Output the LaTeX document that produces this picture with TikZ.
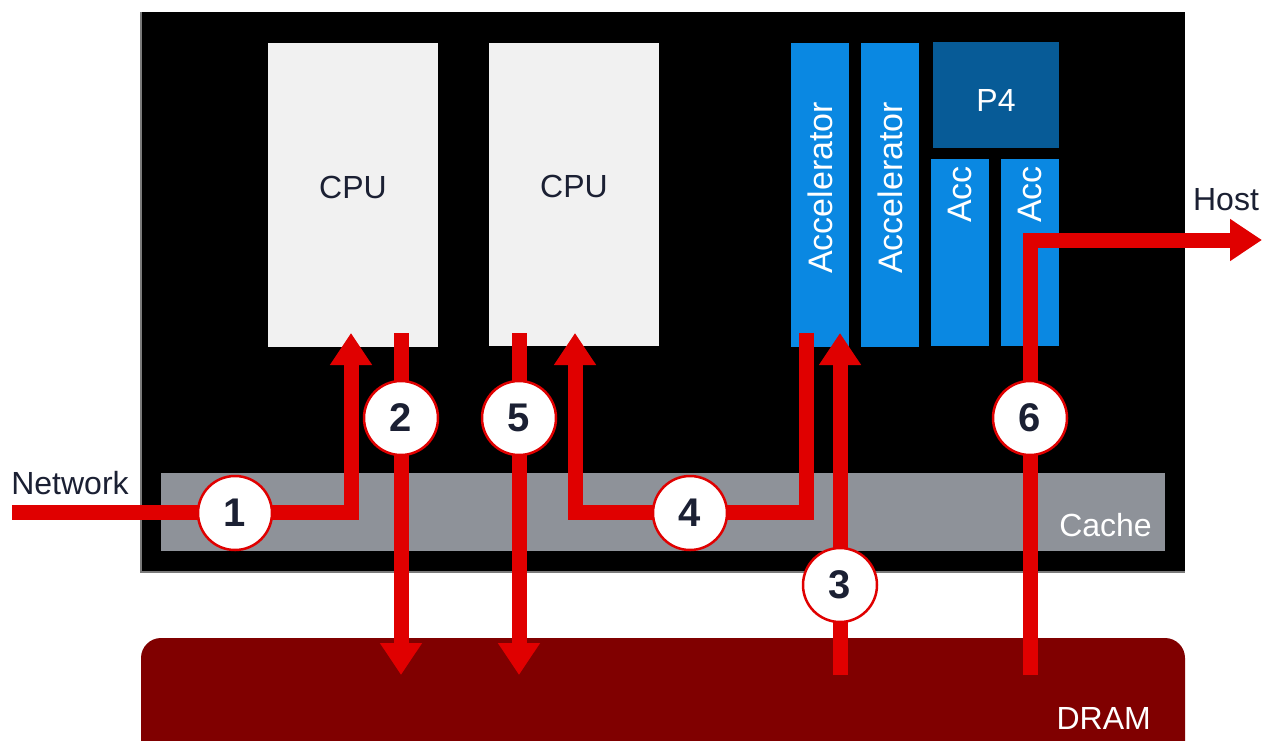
\documentclass[tikz,border=0pt]{standalone}
\usepackage{fontspec}
\setmainfont{Liberation Sans}
\usetikzlibrary{arrows.meta,calc}
\definecolor{ink}{HTML}{1B2033}
\definecolor{cpufill}{HTML}{F1F1F1}
\definecolor{accblue}{HTML}{0A88E2}
\definecolor{p4blue}{HTML}{075B97}
\definecolor{cachegray}{HTML}{8E9299}
\definecolor{dramred}{HTML}{800000}
\definecolor{flow}{HTML}{E00000}
\definecolor{edgegray}{HTML}{7A7A7A}
\begin{document}
\begin{tikzpicture}[x=1pt,y=-1pt,
  box/.style={rectangle,inner sep=0pt,outer sep=0pt,anchor=north west},
  lbl/.style={font=\fontsize{32}{38}\selectfont},
  acclbl/.style={font=\fontsize{34}{40}\selectfont,text=white,rotate=90},
  flowline/.style={draw=flow,line width=15pt,line join=miter},
  flowarrow/.style={flowline,-{Triangle[length=32pt,width=40pt]}},
  stepnum/.style={circle,fill=white,draw=flow,line width=2.5pt,minimum size=74pt,inner sep=0pt,
    text=ink,font=\fontsize{40}{44}\selectfont\bfseries}
]
\useasboundingbox (0,0) rectangle (1264,740);
\clip (0,0) rectangle (1264,740);
\fill[white] (0,0) rectangle (1264,740);

% chip
\node[box,fill=black,minimum width=1044pt,minimum height=560pt] (chip) at (141,12) {};
\draw[edgegray,line width=1.5pt] (chip.north west) -- (chip.south west) -- (chip.south east);

% CPUs
\node[box,fill=cpufill,minimum width=170pt,minimum height=304pt,
  label={[lbl,text=ink,yshift=8pt]center:CPU}] (cpu1) at (268,43) {};
\node[box,fill=cpufill,minimum width=170pt,minimum height=303pt,
  label={[lbl,text=ink,yshift=8pt]center:CPU}] (cpu2) at (489,43) {};

% Accelerators
\node[box,fill=accblue,minimum width=58pt,minimum height=304pt,
  label={[acclbl,xshift=7pt]center:Accelerator}] (acc1) at (791,43) {};
\node[box,fill=accblue,minimum width=58pt,minimum height=304pt,
  label={[acclbl,xshift=7pt]center:Accelerator}] (acc2) at (861,43) {};
\node[box,fill=p4blue,minimum width=126pt,minimum height=106pt,
  label={[lbl,text=white,yshift=-5pt]center:P4}] (p4) at (933,42) {};
\node[box,fill=accblue,minimum width=58pt,minimum height=187pt,
  label={[acclbl,xshift=58pt]center:Acc}] (acc3) at (931,159) {};
\node[box,fill=accblue,minimum width=58pt,minimum height=187pt,
  label={[acclbl,xshift=58pt]center:Acc}] (acc4) at (1001,159) {};

% Cache
\node[box,fill=cachegray,minimum width=1004pt,minimum height=78pt] (cache) at (161,473) {};
\node[lbl,text=white,anchor=east,inner sep=0pt] (cachelbl) at (1152,525) {Cache};

% DRAM
\fill[dramred,rounded corners=20pt] (141,638) rectangle (1185,780);
\coordinate (dram) at (663,700);
\node[lbl,text=white,anchor=east,inner sep=0pt] (dramlbl) at (1151,718) {DRAM};

% outside labels
\node[lbl,text=ink,inner sep=0pt] (netlbl) at (70,483) {Network};
\node[lbl,text=ink,inner sep=0pt] (hostlbl) at (1226,200) {Host};

% flow coordinates
\coordinate (net) at (12,512);
\coordinate (t1) at (351,333);
\coordinate (s2) at (401,333);
\coordinate (e2) at (401,675);
\coordinate (s5) at (519,333);
\coordinate (e5) at (519,675);
\coordinate (s4) at (806,333);
\coordinate (k4) at (575,512);
\coordinate (t4) at (575,333);
\coordinate (s3) at (840,675);
\coordinate (t3) at (840,333);
\coordinate (s6) at (1030,675);
\coordinate (host) at (1262,240);

% flows
\draw[flowarrow] (net) -| (t1);
\draw[flowarrow] (s2) -- (e2);
\draw[flowarrow] (s5) -- (e5);
\draw[flowarrow] (s4) |- (k4) -- (t4);
\draw[flowarrow] (s3) -- (t3);
\draw[flowarrow] (s6) |- (host);

% step numbers
\node[stepnum] (n1) at (235,513) {1};
\node[stepnum] (n2) at (401,418) {2};
\node[stepnum] (n5) at (519,418) {5};
\node[stepnum] (n4) at (690,513) {4};
\node[stepnum] (n3) at (840,585) {3};
\node[stepnum] (n6) at (1030,418) {6};
\end{tikzpicture}
\end{document}
